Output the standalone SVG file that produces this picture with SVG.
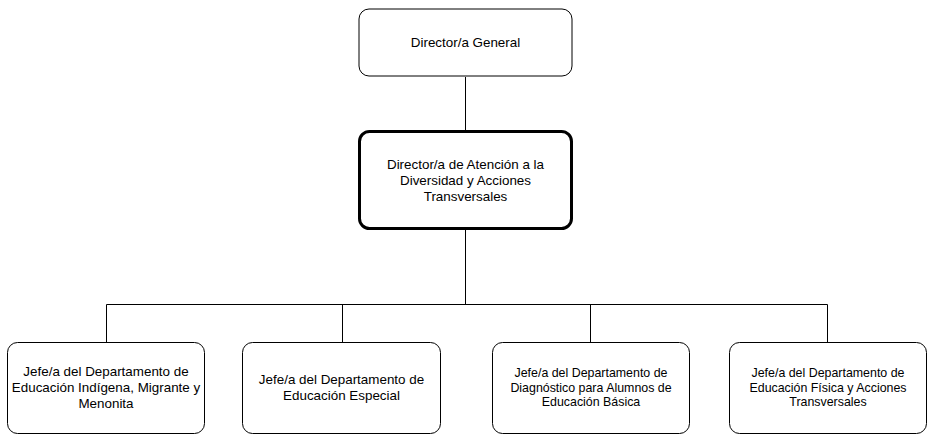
<svg xmlns="http://www.w3.org/2000/svg" width="931" height="438" viewBox="0 0 931 438">
<style>
.box{fill:#fff;stroke:#000;stroke-width:1}
.bold{stroke-width:3}
text{font-family:"Liberation Sans",Arial,sans-serif;font-size:13.4px;fill:#000;text-anchor:middle}
.sm{font-size:12.4px}
.con{stroke:#000;stroke-width:1;fill:none}
</style>
<rect width="931" height="438" fill="#fff"/>
<g id="connectors">
<path class="con" d="M465.5 77V131M465.5 229V304.5M106.5 304.5H827.5M106.5 304.5V342M342.5 304.5V342M590.5 304.5V342M827.5 304.5V342"/>
</g>
<g id="n1"><rect class="box" x="359" y="9" width="213" height="67" rx="10"/>
<text x="465.5" y="47">Director/a General</text></g>
<g id="n2"><rect class="box bold" x="359.5" y="131.5" width="212" height="97" rx="10"/>
<text x="465.5" y="169">Director/a de Atención a la</text>
<text x="465.5" y="185">Diversidad y Acciones</text>
<text x="465.5" y="201">Transversales</text></g>
<g id="n3"><rect class="box" x="7.5" y="342.5" width="197" height="91" rx="10"/>
<text x="106" y="376">Jefe/a del Departamento de</text>
<text x="106" y="392">Educación Indígena, Migrante y</text>
<text x="106" y="408">Menonita</text></g>
<g id="n4"><rect class="box" x="242.5" y="342.5" width="198" height="91" rx="10"/>
<text x="341.5" y="384">Jefe/a del Departamento de</text>
<text x="341.5" y="400">Educación Especial</text></g>
<g id="n5"><rect class="box" x="492.5" y="342.5" width="197" height="91" rx="10"/>
<text class="sm" x="591" y="377">Jefe/a del Departamento de</text>
<text class="sm" x="591" y="392">Diagnóstico para Alumnos de</text>
<text class="sm" x="591" y="406">Educación Básica</text></g>
<g id="n6"><rect class="box" x="729.5" y="342.5" width="197" height="91" rx="10"/>
<text class="sm" x="828" y="377">Jefe/a del Departamento de</text>
<text class="sm" x="828" y="392">Educación Física y Acciones</text>
<text class="sm" x="828" y="406">Transversales</text></g>
</svg>
